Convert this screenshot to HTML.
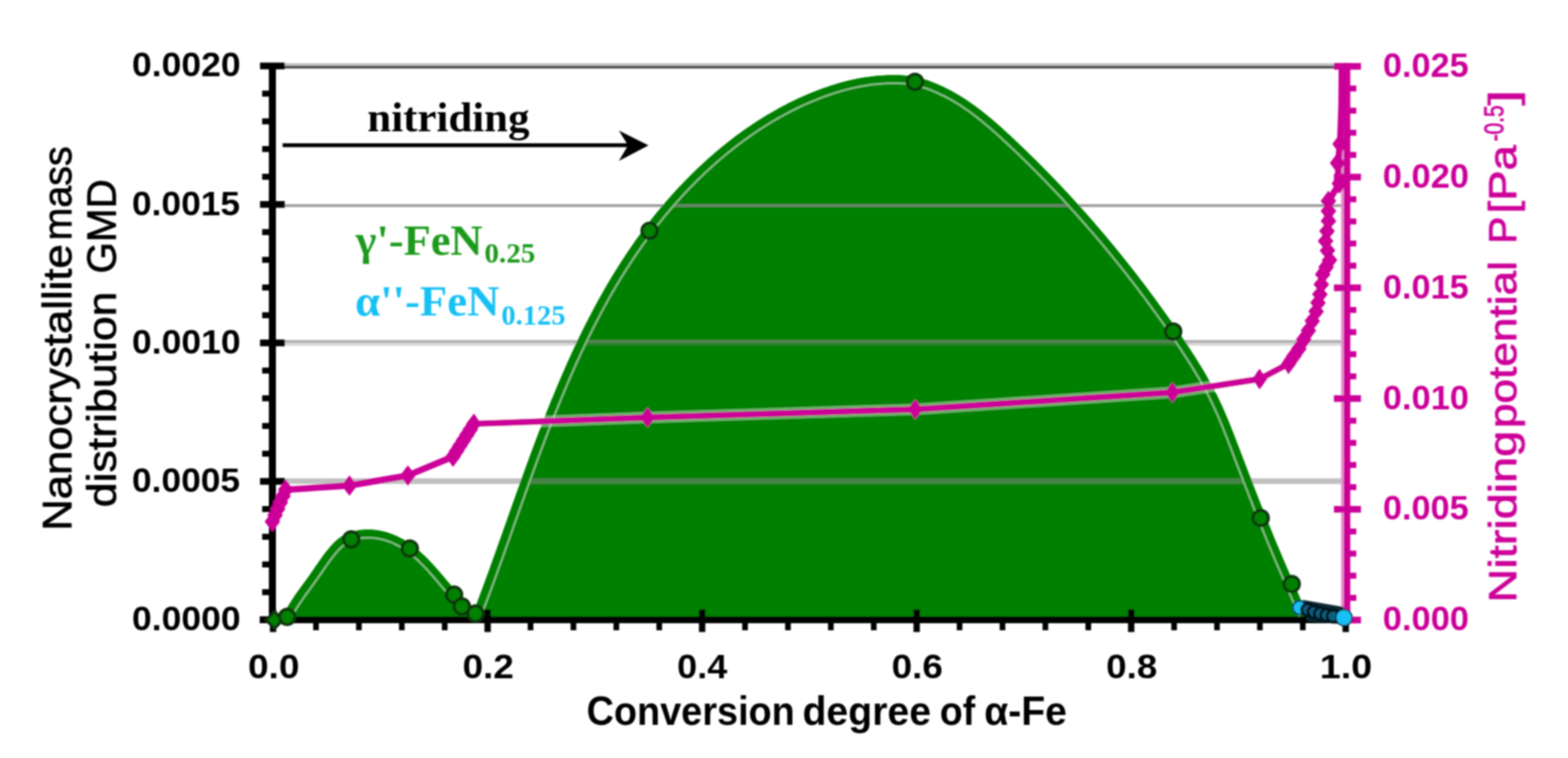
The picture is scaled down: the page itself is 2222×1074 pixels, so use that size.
<!DOCTYPE html>
<html lang="en"><head><meta charset="utf-8"><title>Nitriding chart</title>
<style>
html,body{margin:0;padding:0;background:#fff;}
body{width:2222px;height:1074px;overflow:hidden;}
svg{display:block;}
</style></head><body>
<svg width="2222" height="1074" viewBox="0 0 2222 1074" role="img" aria-label="Nanocrystallite mass distribution and nitriding potential versus conversion degree">
<defs><filter id="soft" x="0" y="0" width="2222" height="1074" filterUnits="userSpaceOnUse"><feGaussianBlur stdDeviation="1.2"/></filter></defs>
<rect width="2222" height="1074" fill="#fff"/>
<g filter="url(#soft)">
<g id="grid">
<rect x="387.0" y="89.5" width="1520.0" height="3.6" fill="#c0c0c0"/>
<rect x="387.0" y="93.1" width="1520.0" height="4" fill="#505050"/>
</g>
<g id="area">
<path d="M397.9 880 L399.4 876.2 L401.1 872.4 L402.9 868.8 L404.8 865.1 L406.7 861.6 L408.7 858.1 L410.8 854.7 L412.9 851.3 L415.1 847.9 L417.4 844.6 L419.6 841.3 L422 838 L424.3 834.8 L426.7 831.5 L429 828.3 L431.4 825 L433.8 821.7 L436.2 818.5 L438.6 815.1 L440.9 811.8 L443.3 808.4 L445.6 805 L447.9 801.6 L450.3 798.2 L452.6 794.8 L455 791.5 L457.4 788.1 L459.8 784.8 L462.3 781.6 L464.9 778.4 L467.5 775.2 L470.2 772.2 L473 769.3 L475.9 766.5 L478.9 763.9 L482.1 761.5 L485.4 759.3 L488.8 757.5 L492.4 755.8 L496.1 754.4 L499.9 753.2 L503.7 752.2 L507.6 751.4 L511.6 750.9 L515.7 750.5 L519.7 750.4 L523.8 750.4 L527.9 750.6 L532 751 L536.1 751.6 L540.2 752.4 L544.2 753.3 L548.2 754.3 L552 755.6 L555.9 756.9 L559.6 758.5 L563.3 760.1 L566.9 761.9 L570.4 763.8 L573.8 765.8 L577.2 767.9 L580.6 770.2 L583.8 772.5 L587 774.9 L590.2 777.5 L593.3 780.1 L596.3 782.7 L599.3 785.5 L602.3 788.3 L605.2 791.1 L608.1 794 L610.9 797 L613.7 800 L616.4 803 L619.1 806 L621.8 809.1 L624.5 812.2 L627.1 815.2 L629.7 818.3 L632.3 821.4 L634.9 824.5 L637.5 827.6 L640.1 830.6 L642.7 833.6 L645.4 836.6 L648 839.6 L650.8 842.5 L653.6 845.4 L656.4 848.3 L659.3 851.1 L662.3 853.8 L665.3 856.6 L668.1 859.4 L670.9 862.3 L673.4 865.4 L675.7 868.6 L677.7 872 L679.4 875.7 L680.6 879.7 Z" fill="#008000"/>
<path d="M666 880 L667.4 876.3 L668.9 872.6 L670.3 868.9 L671.7 865.1 L673.2 861.4 L674.6 857.7 L676 854 L677.4 850.2 L678.8 846.5 L680.2 842.8 L681.6 839 L683 835.3 L684.4 831.5 L685.8 827.7 L687.2 824 L688.6 820.2 L689.9 816.5 L691.3 812.7 L692.7 808.9 L694.1 805.2 L695.4 801.4 L696.8 797.6 L698.1 793.8 L699.5 790 L700.9 786.2 L702.2 782.5 L703.6 778.7 L704.9 774.9 L706.3 771.1 L707.6 767.3 L709 763.5 L710.3 759.7 L711.7 755.9 L713 752.1 L714.4 748.3 L715.7 744.5 L717.1 740.7 L718.4 736.9 L719.7 733.1 L721.1 729.3 L722.4 725.5 L723.8 721.7 L725.1 717.9 L726.5 714.1 L727.8 710.3 L729.2 706.4 L730.5 702.6 L731.9 698.8 L733.3 695 L734.6 691.2 L736 687.4 L737.3 683.6 L738.7 679.8 L740.1 676 L741.5 672.2 L742.8 668.4 L744.2 664.6 L745.6 660.8 L747 657 L748.4 653.2 L749.8 649.4 L751.2 645.6 L752.6 641.9 L754 638.1 L755.4 634.3 L756.8 630.5 L758.2 626.7 L759.6 622.9 L761 619.2 L762.5 615.4 L763.9 611.6 L765.4 607.9 L766.8 604.1 L768.3 600.3 L769.7 596.6 L771.2 592.8 L772.7 589.1 L774.1 585.3 L775.6 581.6 L777.1 577.8 L778.6 574.1 L780.1 570.3 L781.6 566.6 L783.2 562.9 L784.7 559.2 L786.2 555.5 L787.8 551.7 L789.3 548 L790.9 544.3 L792.5 540.6 L794 536.9 L795.6 533.2 L797.2 529.6 L798.8 525.9 L800.4 522.2 L802.1 518.5 L803.7 514.9 L805.3 511.2 L807 507.6 L808.6 503.9 L810.3 500.3 L812 496.6 L813.7 493 L815.4 489.4 L817.1 485.8 L818.8 482.1 L820.6 478.5 L822.3 474.9 L824.1 471.4 L825.8 467.8 L827.6 464.2 L829.4 460.6 L831.2 457.1 L833 453.5 L834.8 449.9 L836.7 446.4 L838.5 442.9 L840.4 439.3 L842.3 435.8 L844.2 432.3 L846.1 428.8 L848 425.3 L849.9 421.8 L851.9 418.3 L853.8 414.9 L855.8 411.4 L857.8 408 L859.8 404.5 L861.8 401.1 L863.8 397.7 L865.9 394.2 L867.9 390.8 L870 387.4 L872.1 384 L874.2 380.7 L876.3 377.3 L878.5 373.9 L880.6 370.6 L882.8 367.2 L885 363.9 L887.2 360.6 L889.4 357.2 L891.6 353.9 L893.9 350.7 L896.1 347.4 L898.4 344.1 L900.7 340.8 L903 337.6 L905.4 334.3 L907.7 331.1 L910.1 327.9 L912.5 324.7 L914.9 321.5 L917.3 318.3 L919.8 315.1 L922.2 312 L924.7 308.8 L927.2 305.7 L929.8 302.6 L932.3 299.5 L934.9 296.4 L937.4 293.3 L940 290.2 L942.7 287.1 L945.3 284.1 L948 281 L950.6 278 L953.3 275 L956 272 L958.8 269 L961.5 266.1 L964.3 263.1 L967.1 260.2 L969.9 257.2 L972.8 254.3 L975.6 251.4 L978.5 248.6 L981.4 245.7 L984.3 242.9 L987.2 240.1 L990.1 237.3 L993.1 234.5 L996.1 231.7 L999.1 229 L1002.1 226.3 L1005.1 223.6 L1008.2 220.9 L1011.2 218.2 L1014.3 215.6 L1017.4 212.9 L1020.5 210.3 L1023.7 207.8 L1026.8 205.2 L1030 202.7 L1033.2 200.2 L1036.4 197.7 L1039.6 195.2 L1042.8 192.8 L1046.1 190.4 L1049.3 188 L1052.6 185.6 L1055.9 183.3 L1059.2 181 L1062.6 178.7 L1065.9 176.5 L1069.3 174.2 L1072.6 172 L1076 169.9 L1079.4 167.7 L1082.9 165.6 L1086.3 163.5 L1089.7 161.4 L1093.2 159.4 L1096.7 157.4 L1100.2 155.4 L1103.7 153.5 L1107.2 151.6 L1110.7 149.7 L1114.3 147.9 L1117.8 146 L1121.4 144.3 L1125 142.5 L1128.6 140.8 L1132.2 139.1 L1135.9 137.5 L1139.5 135.9 L1143.2 134.3 L1146.8 132.7 L1150.5 131.2 L1154.2 129.7 L1157.9 128.3 L1161.6 126.9 L1165.4 125.5 L1169.1 124.2 L1172.9 122.9 L1176.6 121.6 L1180.4 120.4 L1184.2 119.3 L1188 118.1 L1191.8 117.1 L1195.7 116 L1199.5 115 L1203.4 114.1 L1207.2 113.2 L1211.1 112.3 L1215 111.5 L1218.9 110.8 L1222.8 110.1 L1226.7 109.5 L1230.6 108.9 L1234.6 108.4 L1238.5 107.9 L1242.5 107.5 L1246.5 107.2 L1250.5 106.9 L1254.5 106.7 L1258.5 106.6 L1262.5 106.5 L1266.5 106.4 L1270.6 106.5 L1274.6 106.6 L1278.7 106.8 L1282.7 107.1 L1286.8 107.4 L1290.9 107.8 L1295 108.3 L1299.1 109.3 L1303.1 110.4 L1307.1 111.6 L1311 112.8 L1314.9 114.1 L1318.8 115.5 L1322.6 117 L1326.4 118.5 L1330.1 120 L1333.7 121.7 L1337.4 123.4 L1341 125.1 L1344.5 126.9 L1348.1 128.8 L1351.6 130.7 L1355 132.7 L1358.4 134.7 L1361.8 136.8 L1365.2 138.9 L1368.5 141 L1371.8 143.2 L1375.1 145.5 L1378.3 147.8 L1381.5 150.1 L1384.7 152.4 L1387.9 154.8 L1391 157.3 L1394.2 159.7 L1397.3 162.2 L1400.4 164.7 L1403.4 167.3 L1406.5 169.8 L1409.5 172.4 L1412.5 175 L1415.5 177.7 L1418.5 180.3 L1421.5 183 L1424.4 185.7 L1427.4 188.4 L1430.3 191.1 L1433.3 193.9 L1436.2 196.6 L1439.1 199.4 L1442 202.1 L1444.9 204.9 L1447.8 207.7 L1450.7 210.4 L1453.6 213.2 L1456.5 216 L1459.4 218.8 L1462.3 221.6 L1465.1 224.5 L1468 227.3 L1470.8 230.1 L1473.7 233 L1476.5 235.8 L1479.3 238.7 L1482.2 241.6 L1485 244.4 L1487.8 247.3 L1490.6 250.2 L1493.4 253.1 L1496.2 256 L1499 258.9 L1501.7 261.8 L1504.5 264.8 L1507.3 267.7 L1510 270.7 L1512.8 273.6 L1515.5 276.6 L1518.3 279.5 L1521 282.5 L1523.7 285.5 L1526.4 288.5 L1529.1 291.4 L1531.8 294.4 L1534.5 297.5 L1537.2 300.5 L1539.9 303.5 L1542.6 306.5 L1545.2 309.5 L1547.9 312.6 L1550.5 315.6 L1553.2 318.7 L1555.8 321.7 L1558.4 324.8 L1561.1 327.9 L1563.7 330.9 L1566.3 334 L1568.9 337.1 L1571.5 340.2 L1574 343.3 L1576.6 346.4 L1579.2 349.5 L1581.7 352.7 L1584.3 355.8 L1586.8 358.9 L1589.4 362 L1591.9 365.2 L1594.4 368.3 L1596.9 371.5 L1599.4 374.6 L1601.9 377.8 L1604.4 381 L1606.9 384.2 L1609.4 387.3 L1611.9 390.5 L1614.3 393.7 L1616.8 396.9 L1619.2 400.1 L1621.6 403.3 L1624.1 406.5 L1626.5 409.8 L1628.9 413 L1631.3 416.2 L1633.7 419.4 L1636.1 422.7 L1638.5 425.9 L1640.8 429.2 L1643.2 432.4 L1645.5 435.7 L1647.9 438.9 L1650.2 442.2 L1652.6 445.5 L1654.9 448.7 L1657.2 452 L1659.5 455.3 L1661.8 458.6 L1664.1 461.9 L1666.4 465.2 L1668.6 468.5 L1670.9 471.8 L1673.1 475.1 L1675.4 478.4 L1677.6 481.7 L1679.9 485 L1682.1 488.3 L1684.3 491.7 L1686.5 495 L1688.6 498.4 L1690.8 501.7 L1693 505.1 L1695.1 508.4 L1697.2 511.8 L1699.3 515.2 L1701.4 518.6 L1703.5 522 L1705.5 525.4 L1707.5 528.8 L1709.5 532.3 L1711.5 535.7 L1713.5 539.2 L1715.4 542.7 L1717.3 546.2 L1719.2 549.7 L1721 553.2 L1722.8 556.8 L1724.6 560.3 L1726.4 563.9 L1728.1 567.5 L1729.8 571.1 L1731.5 574.7 L1733.1 578.4 L1734.7 582 L1736.3 585.7 L1737.9 589.4 L1739.5 593.1 L1741 596.8 L1742.5 600.5 L1744 604.2 L1745.5 608 L1747 611.7 L1748.4 615.5 L1749.9 619.2 L1751.3 623 L1752.8 626.7 L1754.2 630.5 L1755.6 634.3 L1757.1 638 L1758.5 641.8 L1760 645.6 L1761.4 649.3 L1762.8 653.1 L1764.3 656.8 L1765.7 660.6 L1767.2 664.4 L1768.6 668.1 L1770 671.9 L1771.5 675.7 L1772.9 679.4 L1774.4 683.2 L1775.9 686.9 L1777.3 690.7 L1778.8 694.4 L1780.2 698.2 L1781.7 702 L1783.2 705.7 L1784.6 709.5 L1786.1 713.2 L1787.6 716.9 L1789.1 720.7 L1790.6 724.4 L1792.1 728.2 L1793.6 731.9 L1795 735.7 L1796.6 739.4 L1798.1 743.1 L1799.6 746.9 L1801.1 750.6 L1802.6 754.3 L1804.1 758 L1805.7 761.8 L1807.2 765.5 L1808.7 769.2 L1810.3 772.9 L1811.8 776.6 L1813.4 780.3 L1815 784 L1816.5 787.7 L1818.1 791.4 L1819.7 795.1 L1821.3 798.8 L1822.9 802.5 L1824.5 806.2 L1826.1 809.9 L1827.7 813.6 L1829.3 817.2 L1830.9 820.9 L1832.5 824.6 L1834.1 828.3 L1835.7 831.9 L1837.3 835.6 L1838.9 839.3 L1840.5 843 L1842.1 846.7 L1843.7 850.4 L1845.2 854.1 L1846.8 857.7 L1848.4 861.4 L1849.9 865.1 L1851.5 868.9 L1853 872.6 L1854.5 876.3 L1856 880 Z" fill="#008000"/>
</g>
<g id="grid2" fill="#868686">
<rect x="387.0" y="289.3" width="1520.0" height="4" opacity="0.8"/>
<rect x="387.0" y="481.8" width="1520.0" height="4" opacity="0.655"/>
<rect x="387.0" y="485.8" width="1520.0" height="4" opacity="0.33"/>
<rect x="387.0" y="677.7" width="1520.0" height="8" opacity="0.52"/>
</g>
<g id="band" fill="none" stroke="#008000" stroke-width="11">
<path d="M406.1 874.8 L407.8 871.2 L409.6 867.7 L411.5 864.3 L413.5 860.9 L415.5 857.6 L417.6 854.2 L419.7 851 L421.9 847.7 L424.2 844.5 L426.4 841.2 L428.8 838 L431.1 834.8 L433.5 831.5 L435.9 828.3 L438.3 825 L440.7 821.7 L443.1 818.3 L445.4 814.9 L447.8 811.5 L450.1 808.1 L452.5 804.7 L454.8 801.3 L457.1 798 L459.5 794.6 L461.8 791.4 L464.2 788.1 L466.7 785 L469.2 781.9 L471.7 778.8 L474.3 775.9 L476.9 773.1 L479.6 770.5 L482.4 768.1 L485.2 766 L488.2 764.1 L491.3 762.4 L494.6 760.9 L497.9 759.6 L501.4 758.5 L504.9 757.6 L508.5 756.8 L512.3 756.3 L516 756 L519.8 755.9 L523.7 755.9 L527.5 756.1 L531.4 756.5 L535.2 757 L539.1 757.7 L542.9 758.6 L546.6 759.6 L550.3 760.8 L553.9 762.1 L557.4 763.5 L560.9 765.1 L564.3 766.8 L567.7 768.6 L571 770.5 L574.2 772.6 L577.4 774.7 L580.6 777 L583.7 779.3 L586.7 781.7 L589.7 784.2 L592.7 786.8 L595.6 789.5 L598.5 792.2 L601.3 795 L604.1 797.8 L606.9 800.7 L609.6 803.7 L612.3 806.7 L615 809.7 L617.7 812.7 L620.3 815.7 L622.9 818.8 L625.5 821.9 L628.1 825 L630.7 828 L633.3 831.1 L635.9 834.2 L638.6 837.3 L641.3 840.3 L644 843.3 L646.8 846.3 L649.7 849.3 L652.6 852.2 L655.6 855.1 L658.5 857.8 L661.4 860.6 L664.2 863.3 L666.7 866 L669.1 868.8 L671.1 871.6 L672.8 874.5"/>
<path d="M674 874.6 L675.4 870.8 L676.9 867.1 L678.3 863.4 L679.7 859.7 L681.2 855.9 L682.6 852.2 L684 848.4 L685.4 844.7 L686.8 840.9 L688.2 837.2 L689.6 833.4 L691 829.7 L692.3 825.9 L693.7 822.1 L695.1 818.4 L696.5 814.6 L697.9 810.8 L699.2 807 L700.6 803.2 L702 799.5 L703.3 795.7 L704.7 791.9 L706 788.1 L707.4 784.3 L708.8 780.5 L710.1 776.7 L711.5 772.9 L712.8 769.1 L714.2 765.3 L715.5 761.5 L716.9 757.7 L718.2 753.9 L719.5 750.1 L720.9 746.3 L722.2 742.5 L723.6 738.7 L724.9 734.9 L726.3 731.1 L727.6 727.3 L729 723.5 L730.3 719.7 L731.7 715.9 L733 712.1 L734.4 708.3 L735.7 704.5 L737.1 700.7 L738.4 696.9 L739.8 693.1 L741.2 689.3 L742.5 685.5 L743.9 681.7 L745.3 677.9 L746.6 674.1 L748 670.3 L749.4 666.5 L750.8 662.7 L752.1 658.9 L753.5 655.1 L754.9 651.3 L756.3 647.5 L757.7 643.8 L759.1 640 L760.5 636.2 L761.9 632.4 L763.3 628.7 L764.8 624.9 L766.2 621.1 L767.6 617.3 L769.1 613.6 L770.5 609.8 L771.9 606.1 L773.4 602.3 L774.9 598.6 L776.3 594.8 L777.8 591.1 L779.3 587.3 L780.7 583.6 L782.2 579.9 L783.7 576.1 L785.2 572.4 L786.7 568.7 L788.3 565 L789.8 561.3 L791.3 557.6 L792.9 553.9 L794.4 550.2 L796 546.5 L797.5 542.8 L799.1 539.1 L800.7 535.4 L802.3 531.7 L803.9 528.1 L805.5 524.4 L807.1 520.8 L808.7 517.1 L810.3 513.5 L812 509.8 L813.6 506.2 L815.3 502.6 L817 498.9 L818.7 495.3 L820.4 491.7 L822.1 488.1 L823.8 484.5 L825.5 480.9 L827.2 477.4 L829 473.8 L830.7 470.2 L832.5 466.6 L834.3 463.1 L836.1 459.5 L837.9 456 L839.7 452.5 L841.6 449 L843.4 445.4 L845.3 441.9 L847.1 438.4 L849 434.9 L850.9 431.4 L852.8 428 L854.7 424.5 L856.7 421 L858.6 417.6 L860.6 414.1 L862.5 410.7 L864.5 407.3 L866.5 403.9 L868.6 400.5 L870.6 397.1 L872.6 393.7 L874.7 390.3 L876.8 386.9 L878.9 383.6 L881 380.2 L883.1 376.9 L885.2 373.5 L887.4 370.2 L889.6 366.9 L891.7 363.6 L893.9 360.3 L896.2 357 L898.4 353.8 L900.7 350.5 L902.9 347.3 L905.2 344 L907.5 340.8 L909.8 337.6 L912.2 334.4 L914.5 331.2 L916.9 328 L919.3 324.8 L921.7 321.7 L924.1 318.5 L926.6 315.4 L929 312.3 L931.5 309.1 L934 306 L936.5 302.9 L939.1 299.9 L941.6 296.8 L944.2 293.8 L946.8 290.7 L949.4 287.7 L952.1 284.7 L954.7 281.7 L957.4 278.7 L960.1 275.7 L962.8 272.8 L965.6 269.8 L968.3 266.9 L971.1 264 L973.9 261.1 L976.7 258.2 L979.5 255.3 L982.4 252.5 L985.2 249.6 L988.1 246.8 L991 244 L993.9 241.3 L996.9 238.5 L999.8 235.8 L1002.8 233 L1005.8 230.3 L1008.8 227.7 L1011.8 225 L1014.8 222.4 L1017.9 219.8 L1021 217.2 L1024 214.6 L1027.2 212 L1030.3 209.5 L1033.4 207 L1036.6 204.5 L1039.7 202.1 L1042.9 199.6 L1046.1 197.2 L1049.3 194.8 L1052.6 192.5 L1055.8 190.1 L1059.1 187.8 L1062.4 185.5 L1065.7 183.3 L1069 181 L1072.3 178.8 L1075.6 176.6 L1079 174.5 L1082.4 172.4 L1085.7 170.3 L1089.1 168.2 L1092.5 166.2 L1096 164.2 L1099.4 162.2 L1102.9 160.2 L1106.3 158.3 L1109.8 156.4 L1113.3 154.6 L1116.8 152.8 L1120.3 151 L1123.9 149.2 L1127.4 147.5 L1131 145.8 L1134.5 144.1 L1138.1 142.5 L1141.7 140.9 L1145.3 139.3 L1148.9 137.8 L1152.6 136.3 L1156.2 134.9 L1159.9 133.4 L1163.6 132 L1167.2 130.7 L1170.9 129.4 L1174.6 128.1 L1178.3 126.9 L1182.1 125.7 L1185.8 124.5 L1189.5 123.4 L1193.3 122.4 L1197.1 121.3 L1200.8 120.4 L1204.6 119.4 L1208.4 118.5 L1212.2 117.7 L1216 116.9 L1219.9 116.2 L1223.7 115.5 L1227.5 114.9 L1231.4 114.4 L1235.3 113.9 L1239.1 113.4 L1243 113 L1246.9 112.7 L1250.8 112.4 L1254.7 112.2 L1258.6 112 L1262.6 112 L1266.5 111.9 L1270.4 112 L1274.4 112.1 L1278.4 112.3 L1282.3 112.6 L1286.3 112.9 L1290.3 113.3 L1294 113.7 L1297.7 114.6 L1301.6 115.7 L1305.5 116.9 L1309.3 118.1 L1313.1 119.3 L1316.9 120.7 L1320.6 122.1 L1324.3 123.6 L1327.9 125.1 L1331.5 126.7 L1335 128.3 L1338.5 130.1 L1342 131.8 L1345.5 133.6 L1348.9 135.5 L1352.3 137.4 L1355.6 139.4 L1358.9 141.4 L1362.2 143.5 L1365.5 145.6 L1368.7 147.8 L1371.9 150 L1375.1 152.2 L1378.3 154.5 L1381.4 156.8 L1384.6 159.2 L1387.7 161.6 L1390.7 164 L1393.8 166.5 L1396.9 169 L1399.9 171.5 L1402.9 174 L1405.9 176.6 L1408.9 179.2 L1411.9 181.8 L1414.8 184.4 L1417.8 187.1 L1420.7 189.8 L1423.7 192.5 L1426.6 195.2 L1429.5 197.9 L1432.4 200.6 L1435.3 203.4 L1438.2 206.1 L1441.1 208.9 L1444 211.6 L1446.9 214.4 L1449.8 217.2 L1452.7 220 L1455.5 222.8 L1458.4 225.6 L1461.3 228.4 L1464.1 231.2 L1466.9 234 L1469.8 236.9 L1472.6 239.7 L1475.4 242.6 L1478.2 245.4 L1481.1 248.3 L1483.9 251.1 L1486.6 254 L1489.4 256.9 L1492.2 259.8 L1495 262.7 L1497.8 265.6 L1500.5 268.5 L1503.3 271.5 L1506 274.4 L1508.8 277.3 L1511.5 280.3 L1514.2 283.2 L1516.9 286.2 L1519.6 289.2 L1522.4 292.2 L1525.1 295.1 L1527.7 298.1 L1530.4 301.1 L1533.1 304.1 L1535.8 307.1 L1538.4 310.1 L1541.1 313.2 L1543.7 316.2 L1546.4 319.2 L1549 322.3 L1551.6 325.3 L1554.3 328.4 L1556.9 331.4 L1559.5 334.5 L1562.1 337.6 L1564.7 340.7 L1567.2 343.7 L1569.8 346.8 L1572.4 349.9 L1574.9 353 L1577.5 356.1 L1580 359.3 L1582.6 362.4 L1585.1 365.5 L1587.6 368.6 L1590.1 371.8 L1592.6 374.9 L1595.1 378.1 L1597.6 381.2 L1600.1 384.4 L1602.6 387.5 L1605 390.7 L1607.5 393.9 L1610 397.1 L1612.4 400.3 L1614.8 403.4 L1617.3 406.6 L1619.7 409.8 L1622.1 413.1 L1624.5 416.3 L1626.9 419.5 L1629.3 422.7 L1631.7 425.9 L1634 429.2 L1636.4 432.4 L1638.7 435.6 L1641.1 438.9 L1643.4 442.1 L1645.8 445.4 L1648.1 448.6 L1650.4 451.9 L1652.7 455.2 L1655 458.4 L1657.3 461.7 L1659.6 465 L1661.8 468.3 L1664.1 471.6 L1666.3 474.9 L1668.6 478.2 L1670.8 481.5 L1673.1 484.8 L1675.3 488.1 L1677.5 491.4 L1679.7 494.7 L1681.9 498 L1684 501.4 L1686.2 504.7 L1688.3 508 L1690.4 511.4 L1692.5 514.7 L1694.6 518.1 L1696.7 521.5 L1698.7 524.8 L1700.8 528.2 L1702.8 531.6 L1704.8 535 L1706.7 538.5 L1708.7 541.9 L1710.6 545.3 L1712.4 548.8 L1714.3 552.3 L1716.1 555.8 L1717.9 559.3 L1719.7 562.8 L1721.4 566.3 L1723.1 569.9 L1724.8 573.4 L1726.5 577 L1728.1 580.6 L1729.7 584.2 L1731.3 587.9 L1732.8 591.5 L1734.4 595.2 L1735.9 598.9 L1737.4 602.6 L1738.9 606.3 L1740.4 610 L1741.8 613.7 L1743.3 617.4 L1744.8 621.2 L1746.2 624.9 L1747.6 628.7 L1749.1 632.5 L1750.5 636.2 L1751.9 640 L1753.4 643.7 L1754.8 647.5 L1756.3 651.3 L1757.7 655 L1759.1 658.8 L1760.6 662.6 L1762 666.3 L1763.5 670.1 L1764.9 673.9 L1766.4 677.6 L1767.8 681.4 L1769.3 685.2 L1770.7 688.9 L1772.2 692.7 L1773.6 696.4 L1775.1 700.2 L1776.6 704 L1778.1 707.7 L1779.5 711.5 L1781 715.2 L1782.5 719 L1784 722.7 L1785.5 726.5 L1786.9 730.2 L1788.4 734 L1789.9 737.7 L1791.5 741.4 L1793 745.2 L1794.5 748.9 L1796 752.7 L1797.5 756.4 L1799 760.1 L1800.6 763.9 L1802.1 767.6 L1803.7 771.3 L1805.2 775 L1806.8 778.7 L1808.3 782.5 L1809.9 786.2 L1811.5 789.9 L1813 793.6 L1814.6 797.3 L1816.2 801 L1817.8 804.7 L1819.4 808.4 L1821 812.1 L1822.6 815.7 L1824.2 819.4 L1825.8 823.1 L1827.4 826.8 L1829.1 830.5 L1830.7 834.1 L1832.3 837.8 L1833.9 841.5 L1835.4 845.2 L1837 848.9 L1838.6 852.5 L1840.2 856.2 L1841.7 859.9 L1843.3 863.6 L1844.8 867.3 L1846.4 871 L1847.9 874.6"/>
</g>
<g id="lightline" fill="none" stroke="#86c486" stroke-width="2.4">
<path d="M413.7 873.9 L415.4 870.5 L417.2 867.2 L419.1 864 L421.1 860.7 L423.1 857.5 L425.2 854.3 L427.4 851.1 L429.6 847.9 L431.8 844.7 L434.1 841.5 L436.5 838.3 L438.8 835.1 L441.2 831.8 L443.6 828.5 L446 825.2 L448.4 821.8 L450.8 818.4 L453.2 815 L455.6 811.5 L457.9 808.1 L460.2 804.8 L462.5 801.4 L464.9 798.1 L467.2 794.9 L469.5 791.7 L471.9 788.7 L474.3 785.7 L476.7 782.8 L479.2 780 L481.7 777.4 L484.2 775 L486.7 772.8 L489.2 770.9 L491.8 769.2 L494.5 767.7 L497.4 766.4 L500.4 765.2 L503.5 764.2 L506.7 763.4 L510 762.8 L513.4 762.3 L516.9 762 L520.4 761.9 L524 761.9 L527.6 762.1 L531.2 762.4 L534.8 763 L538.4 763.6 L541.9 764.4 L545.4 765.4 L548.9 766.5 L552.2 767.7 L555.6 769 L558.8 770.5 L562.1 772.1 L565.2 773.8 L568.4 775.7 L571.5 777.6 L574.5 779.6 L577.5 781.8 L580.5 784 L583.4 786.4 L586.3 788.8 L589.2 791.3 L592 793.9 L594.8 796.5 L597.6 799.3 L600.3 802 L603 804.9 L605.7 807.7 L608.4 810.7 L611 813.6 L613.6 816.6 L616.2 819.6 L618.8 822.7 L621.4 825.7 L624 828.8 L626.6 831.9 L629.2 835 L631.9 838.1 L634.6 841.2 L637.3 844.3 L640.1 847.4 L642.9 850.4 L645.9 853.5 L648.9 856.5 L651.9 859.4 L654.9 862.2 L657.8 864.9 L660.4 867.5 L662.8 870 L664.8 872.4 L666.6 874.9"/>
<path d="M681.5 873 L683 869.3 L684.4 865.5 L685.8 861.8 L687.3 858 L688.7 854.3 L690.1 850.5 L691.5 846.8 L692.9 843 L694.3 839.3 L695.7 835.5 L697.1 831.7 L698.5 828 L699.9 824.2 L701.2 820.4 L702.6 816.6 L704 812.8 L705.4 809.1 L706.7 805.3 L708.1 801.5 L709.5 797.7 L710.8 793.9 L712.2 790.1 L713.5 786.3 L714.9 782.5 L716.3 778.7 L717.6 774.9 L719 771.1 L720.3 767.3 L721.7 763.5 L723 759.7 L724.4 755.9 L725.7 752.1 L727 748.3 L728.4 744.5 L729.7 740.7 L731.1 736.9 L732.4 733.1 L733.8 729.3 L735.1 725.5 L736.5 721.7 L737.8 717.9 L739.2 714.1 L740.5 710.3 L741.9 706.5 L743.2 702.7 L744.6 698.9 L745.9 695.1 L747.3 691.3 L748.7 687.5 L750 683.7 L751.4 679.9 L752.8 676.1 L754.1 672.3 L755.5 668.5 L756.9 664.8 L758.3 661 L759.7 657.2 L761 653.4 L762.4 649.6 L763.8 645.8 L765.2 642.1 L766.6 638.3 L768 634.5 L769.5 630.8 L770.9 627 L772.3 623.2 L773.7 619.5 L775.2 615.7 L776.6 612 L778 608.2 L779.5 604.5 L780.9 600.7 L782.4 597 L783.9 593.3 L785.3 589.5 L786.8 585.8 L788.3 582.1 L789.8 578.4 L791.3 574.7 L792.8 571 L794.3 567.3 L795.8 563.6 L797.4 559.9 L798.9 556.2 L800.4 552.5 L802 548.8 L803.5 545.1 L805.1 541.5 L806.7 537.8 L808.3 534.1 L809.9 530.5 L811.5 526.8 L813.1 523.2 L814.7 519.6 L816.3 515.9 L818 512.3 L819.6 508.7 L821.3 505.1 L822.9 501.5 L824.6 497.9 L826.3 494.3 L828 490.7 L829.7 487.1 L831.4 483.5 L833.1 480 L834.9 476.4 L836.6 472.9 L838.4 469.3 L840.2 465.8 L841.9 462.3 L843.7 458.7 L845.6 455.2 L847.4 451.7 L849.2 448.2 L851.1 444.7 L852.9 441.3 L854.8 437.8 L856.7 434.3 L858.6 430.9 L860.5 427.4 L862.4 424 L864.3 420.5 L866.3 417.1 L868.2 413.7 L870.2 410.3 L872.2 406.9 L874.2 403.5 L876.2 400.2 L878.3 396.8 L880.3 393.4 L882.4 390.1 L884.4 386.8 L886.5 383.4 L888.6 380.1 L890.8 376.8 L892.9 373.5 L895.1 370.2 L897.2 366.9 L899.4 363.7 L901.6 360.4 L903.8 357.2 L906.1 353.9 L908.3 350.7 L910.6 347.5 L912.9 344.3 L915.2 341.1 L917.5 337.9 L919.8 334.8 L922.2 331.6 L924.6 328.4 L927 325.3 L929.4 322.2 L931.8 319.1 L934.2 316 L936.7 312.9 L939.2 309.8 L941.7 306.8 L944.2 303.7 L946.7 300.7 L949.3 297.6 L951.9 294.6 L954.5 291.6 L957.1 288.6 L959.7 285.7 L962.4 282.7 L965 279.8 L967.7 276.8 L970.4 273.9 L973.2 271 L975.9 268.1 L978.7 265.2 L981.5 262.4 L984.3 259.6 L987.1 256.7 L989.9 253.9 L992.8 251.1 L995.7 248.4 L998.5 245.6 L1001.5 242.9 L1004.4 240.2 L1007.3 237.5 L1010.3 234.8 L1013.2 232.2 L1016.2 229.5 L1019.2 226.9 L1022.3 224.3 L1025.3 221.8 L1028.4 219.2 L1031.4 216.7 L1034.5 214.2 L1037.6 211.7 L1040.8 209.2 L1043.9 206.8 L1047 204.4 L1050.2 202 L1053.4 199.6 L1056.6 197.3 L1059.8 195 L1063 192.7 L1066.3 190.5 L1069.5 188.2 L1072.8 186 L1076.1 183.8 L1079.4 181.7 L1082.7 179.6 L1086 177.5 L1089.4 175.4 L1092.7 173.3 L1096.1 171.3 L1099.5 169.4 L1102.9 167.4 L1106.3 165.5 L1109.7 163.6 L1113.1 161.7 L1116.6 159.9 L1120 158.1 L1123.5 156.3 L1127 154.6 L1130.5 152.9 L1134 151.2 L1137.5 149.6 L1141.1 148 L1144.6 146.4 L1148.2 144.8 L1151.8 143.3 L1155.3 141.9 L1158.9 140.4 L1162.5 139 L1166.1 137.7 L1169.8 136.3 L1173.4 135 L1177.1 133.8 L1180.7 132.6 L1184.4 131.4 L1188 130.3 L1191.7 129.2 L1195.4 128.1 L1199.1 127.1 L1202.8 126.2 L1206.5 125.3 L1210.2 124.4 L1214 123.6 L1217.7 122.8 L1221.4 122.1 L1225.2 121.5 L1229 120.9 L1232.7 120.3 L1236.5 119.8 L1240.3 119.4 L1244.1 119 L1247.9 118.7 L1251.7 118.4 L1255.5 118.2 L1259.3 118 L1263.1 118 L1267 117.9 L1270.8 118 L1274.7 118.1 L1278.5 118.3 L1282.4 118.5 L1286.3 118.9 L1290.2 119.2 L1293.4 119.6 L1296.7 120.4 L1300.5 121.5 L1304.3 122.6 L1308 123.8 L1311.7 125 L1315.3 126.3 L1318.9 127.7 L1322.5 129.1 L1326 130.6 L1329.5 132.2 L1332.9 133.8 L1336.4 135.4 L1339.8 137.1 L1343.1 138.9 L1346.5 140.7 L1349.8 142.6 L1353 144.6 L1356.3 146.5 L1359.5 148.6 L1362.7 150.6 L1365.9 152.8 L1369 154.9 L1372.2 157.1 L1375.3 159.4 L1378.4 161.6 L1381.4 164 L1384.5 166.3 L1387.5 168.7 L1390.5 171.1 L1393.5 173.6 L1396.5 176.1 L1399.5 178.6 L1402.5 181.1 L1405.4 183.7 L1408.4 186.3 L1411.3 188.9 L1414.3 191.6 L1417.2 194.2 L1420.1 196.9 L1423 199.6 L1425.9 202.3 L1428.8 205 L1431.7 207.7 L1434.6 210.5 L1437.5 213.2 L1440.4 216 L1443.3 218.7 L1446.1 221.5 L1449 224.3 L1451.8 227 L1454.7 229.8 L1457.5 232.6 L1460.4 235.5 L1463.2 238.3 L1466 241.1 L1468.8 243.9 L1471.7 246.8 L1474.5 249.6 L1477.3 252.5 L1480.1 255.3 L1482.8 258.2 L1485.6 261.1 L1488.4 264 L1491.1 266.9 L1493.9 269.8 L1496.7 272.7 L1499.4 275.6 L1502.1 278.5 L1504.9 281.4 L1507.6 284.4 L1510.3 287.3 L1513 290.3 L1515.7 293.2 L1518.4 296.2 L1521.1 299.2 L1523.8 302.1 L1526.5 305.1 L1529.1 308.1 L1531.8 311.1 L1534.4 314.1 L1537.1 317.1 L1539.7 320.1 L1542.3 323.2 L1545 326.2 L1547.6 329.2 L1550.2 332.3 L1552.8 335.3 L1555.4 338.4 L1558 341.4 L1560.6 344.5 L1563.1 347.6 L1565.7 350.7 L1568.3 353.7 L1570.8 356.8 L1573.3 359.9 L1575.9 363 L1578.4 366.2 L1580.9 369.3 L1583.4 372.4 L1585.9 375.5 L1588.4 378.6 L1590.9 381.8 L1593.4 384.9 L1595.9 388.1 L1598.3 391.2 L1600.8 394.4 L1603.3 397.6 L1605.7 400.7 L1608.1 403.9 L1610.6 407.1 L1613 410.3 L1615.4 413.5 L1617.8 416.7 L1620.2 419.9 L1622.6 423.1 L1625 426.3 L1627.3 429.5 L1629.7 432.7 L1632 435.9 L1634.4 439.2 L1636.7 442.4 L1639.1 445.6 L1641.4 448.9 L1643.7 452.1 L1646 455.4 L1648.3 458.6 L1650.6 461.9 L1652.9 465.2 L1655.1 468.4 L1657.4 471.7 L1659.6 475 L1661.9 478.3 L1664.1 481.5 L1666.4 484.8 L1668.6 488.1 L1670.8 491.4 L1673 494.7 L1675.2 498 L1677.3 501.3 L1679.5 504.6 L1681.6 507.9 L1683.8 511.3 L1685.9 514.6 L1688 517.9 L1690 521.2 L1692.1 524.6 L1694.1 527.9 L1696.1 531.3 L1698.1 534.7 L1700.1 538 L1702 541.4 L1703.9 544.8 L1705.8 548.2 L1707.7 551.6 L1709.5 555.1 L1711.3 558.5 L1713.1 562 L1714.8 565.5 L1716.5 568.9 L1718.2 572.4 L1719.9 576 L1721.5 579.5 L1723.1 583.1 L1724.7 586.6 L1726.3 590.2 L1727.8 593.9 L1729.3 597.5 L1730.9 601.2 L1732.4 604.8 L1733.8 608.5 L1735.3 612.2 L1736.8 615.9 L1738.2 619.6 L1739.7 623.4 L1741.1 627.1 L1742.5 630.8 L1744 634.6 L1745.4 638.4 L1746.8 642.1 L1748.3 645.9 L1749.7 649.7 L1751.1 653.4 L1752.6 657.2 L1754 661 L1755.5 664.7 L1756.9 668.5 L1758.4 672.3 L1759.8 676 L1761.3 679.8 L1762.7 683.6 L1764.2 687.3 L1765.6 691.1 L1767.1 694.9 L1768.6 698.6 L1770 702.4 L1771.5 706.1 L1773 709.9 L1774.4 713.7 L1775.9 717.4 L1777.4 721.2 L1778.9 724.9 L1780.4 728.7 L1781.9 732.4 L1783.4 736.2 L1784.9 739.9 L1786.4 743.7 L1787.9 747.4 L1789.4 751.2 L1790.9 754.9 L1792.5 758.7 L1794 762.4 L1795.5 766.1 L1797.1 769.9 L1798.6 773.6 L1800.2 777.3 L1801.7 781.1 L1803.3 784.8 L1804.9 788.5 L1806.4 792.2 L1808 795.9 L1809.6 799.7 L1811.2 803.4 L1812.8 807.1 L1814.4 810.8 L1816 814.5 L1817.6 818.1 L1819.2 821.8 L1820.8 825.5 L1822.4 829.2 L1824.1 832.9 L1825.7 836.5 L1827.3 840.2 L1828.8 843.9 L1830.4 847.6 L1832 851.2 L1833.6 854.9 L1835.2 858.6 L1836.7 862.2 L1838.3 865.9 L1839.8 869.6 L1841.3 873.2"/>
</g>
<g id="axes" fill="#000">
<rect x="381" y="90" width="10" height="793.5"/>
<rect x="368" y="873.5" width="1543.0" height="9.5"/>
<rect x="368.5" y="873.5" width="35" height="9.5"/>
<rect x="371.5" y="834.8" width="14" height="8.5"/>
<rect x="371.5" y="795.5" width="14" height="8.5"/>
<rect x="371.5" y="756.3" width="14" height="8.5"/>
<rect x="371.5" y="717" width="14" height="8.5"/>
<rect x="368.5" y="677.3" width="35" height="9.5"/>
<rect x="371.5" y="638.6" width="14" height="8.5"/>
<rect x="371.5" y="599.3" width="14" height="8.5"/>
<rect x="371.5" y="560.1" width="14" height="8.5"/>
<rect x="371.5" y="520.8" width="14" height="8.5"/>
<rect x="368.5" y="481.1" width="35" height="9.5"/>
<rect x="371.5" y="442.4" width="14" height="8.5"/>
<rect x="371.5" y="403.1" width="14" height="8.5"/>
<rect x="371.5" y="363.9" width="14" height="8.5"/>
<rect x="371.5" y="324.6" width="14" height="8.5"/>
<rect x="368.5" y="284.9" width="35" height="9.5"/>
<rect x="371.5" y="246.2" width="14" height="8.5"/>
<rect x="371.5" y="206.9" width="14" height="8.5"/>
<rect x="371.5" y="167.7" width="14" height="8.5"/>
<rect x="371.5" y="128.4" width="14" height="8.5"/>
<rect x="368.5" y="88.7" width="35" height="9.5"/>
<rect x="382.5" y="863.5" width="9" height="32"/>
<rect x="443.8" y="878.5" width="8" height="14.5"/>
<rect x="504.6" y="878.5" width="8" height="14.5"/>
<rect x="565.4" y="878.5" width="8" height="14.5"/>
<rect x="626.2" y="878.5" width="8" height="14.5"/>
<rect x="686.5" y="863.5" width="9" height="32"/>
<rect x="747.8" y="878.5" width="8" height="14.5"/>
<rect x="808.6" y="878.5" width="8" height="14.5"/>
<rect x="869.4" y="878.5" width="8" height="14.5"/>
<rect x="930.2" y="878.5" width="8" height="14.5"/>
<rect x="990.5" y="863.5" width="9" height="32"/>
<rect x="1051.8" y="878.5" width="8" height="14.5"/>
<rect x="1112.6" y="878.5" width="8" height="14.5"/>
<rect x="1173.4" y="878.5" width="8" height="14.5"/>
<rect x="1234.2" y="878.5" width="8" height="14.5"/>
<rect x="1294.5" y="863.5" width="9" height="32"/>
<rect x="1355.8" y="878.5" width="8" height="14.5"/>
<rect x="1416.6" y="878.5" width="8" height="14.5"/>
<rect x="1477.4" y="878.5" width="8" height="14.5"/>
<rect x="1538.2" y="878.5" width="8" height="14.5"/>
<rect x="1598.5" y="863.5" width="9" height="32"/>
<rect x="1659.8" y="878.5" width="8" height="14.5"/>
<rect x="1720.6" y="878.5" width="8" height="14.5"/>
<rect x="1781.4" y="878.5" width="8" height="14.5"/>
<rect x="1842.2" y="878.5" width="8" height="14.5"/>
<rect x="1902.5" y="863.5" width="9" height="32"/>
</g>
<g id="raxis" fill="#cc0099">
<rect x="1900.3" y="90" width="4.2" height="792.5" fill="#e58fcd"/>
<rect x="1904.2" y="89.5" width="9.3" height="793.0"/>
<rect x="1890.3" y="873.8" width="38.3" height="9.4"/>
<rect x="1906" y="842.9" width="16" height="8.4"/>
<rect x="1906" y="811.5" width="16" height="8.4"/>
<rect x="1906" y="780.2" width="16" height="8.4"/>
<rect x="1906" y="748.8" width="16" height="8.4"/>
<rect x="1890.3" y="716.9" width="38.3" height="9.4"/>
<rect x="1906" y="686" width="16" height="8.4"/>
<rect x="1906" y="654.6" width="16" height="8.4"/>
<rect x="1906" y="623.3" width="16" height="8.4"/>
<rect x="1906" y="591.9" width="16" height="8.4"/>
<rect x="1890.3" y="560" width="38.3" height="9.4"/>
<rect x="1906" y="529.1" width="16" height="8.4"/>
<rect x="1906" y="497.7" width="16" height="8.4"/>
<rect x="1906" y="466.4" width="16" height="8.4"/>
<rect x="1906" y="435" width="16" height="8.4"/>
<rect x="1890.3" y="403.1" width="38.3" height="9.4"/>
<rect x="1906" y="372.2" width="16" height="8.4"/>
<rect x="1906" y="340.8" width="16" height="8.4"/>
<rect x="1906" y="309.5" width="16" height="8.4"/>
<rect x="1906" y="278.1" width="16" height="8.4"/>
<rect x="1890.3" y="246.2" width="38.3" height="9.4"/>
<rect x="1906" y="215.3" width="16" height="8.4"/>
<rect x="1906" y="183.9" width="16" height="8.4"/>
<rect x="1906" y="152.6" width="16" height="8.4"/>
<rect x="1906" y="121.2" width="16" height="8.4"/>
<rect x="1890.3" y="89.3" width="38.3" height="9.4"/>
</g>
<g id="maghalo" fill="none" stroke="#fff" opacity="0.42">
<path d="M671.5 600.5 L917.6 591.4 L1297 580 L1661.4 556 L1785 537 L1825.9 515.5 L1840.7 494 L1854.2 468.3 L1865 441.3 L1870.4 417 L1874.4 388.7 L1884 368.5 L1878.5 341.5 L1882.5 313.2" stroke-width="16" stroke-linejoin="round" stroke-linecap="butt"/>
</g>
<g id="mag" fill="#cc0099" stroke="#cc0099">
<path d="M386 739 L404.8 694 L495.2 688 L578 673.7 L642 647 L671.5 600.5 L917.6 591.4 L1297 580 L1661.4 556 L1785 537 L1825.9 515.5 L1840.7 494 L1854.2 468.3 L1865 441.3 L1870.4 417 L1874.4 388.7 L1884 368.5 L1878.5 341.5 L1882.5 313.2 L1882.5 284.8 L1897 262 L1896 231 L1899 204 L1901 150 L1901.5 94" fill="none" stroke-width="9" stroke-linejoin="round" stroke-linecap="butt"/>
<path d="M375 739 L386 724.5 L397 739 L386 753.5 Z" stroke="none"/>
<path d="M378.8 730 L389.8 715.5 L400.8 730 L389.8 744.5 Z" stroke="none"/>
<path d="M382.5 721 L393.5 706.5 L404.5 721 L393.5 735.5 Z" stroke="none"/>
<path d="M386.3 712 L397.3 697.5 L408.3 712 L397.3 726.5 Z" stroke="none"/>
<path d="M390 703 L401 688.5 L412 703 L401 717.5 Z" stroke="none"/>
<path d="M393.8 694 L404.8 679.5 L415.8 694 L404.8 708.5 Z" stroke="none"/>
<path d="M484.2 688 L495.2 673.5 L506.2 688 L495.2 702.5 Z" stroke="none"/>
<path d="M567 673.7 L578 659.2 L589 673.7 L578 688.2 Z" stroke="none"/>
<path d="M631 647 L642 632.5 L653 647 L642 661.5 Z" stroke="none"/>
<path d="M635.9 639.2 L646.9 624.8 L657.9 639.2 L646.9 653.8 Z" stroke="none"/>
<path d="M640.8 631.5 L651.8 617 L662.8 631.5 L651.8 646 Z" stroke="none"/>
<path d="M645.8 623.8 L656.8 609.2 L667.8 623.8 L656.8 638.2 Z" stroke="none"/>
<path d="M650.7 616 L661.7 601.5 L672.7 616 L661.7 630.5 Z" stroke="none"/>
<path d="M655.6 608.2 L666.6 593.8 L677.6 608.2 L666.6 622.8 Z" stroke="none"/>
<path d="M660.5 600.5 L671.5 586 L682.5 600.5 L671.5 615 Z" stroke="none"/>
<path d="M906.6 591.4 L917.6 576.9 L928.6 591.4 L917.6 605.9 Z" stroke="none"/>
<path d="M1286 580 L1297 565.5 L1308 580 L1297 594.5 Z" stroke="none"/>
<path d="M1650.4 556 L1661.4 541.5 L1672.4 556 L1661.4 570.5 Z" stroke="none"/>
<path d="M1774 537 L1785 522.5 L1796 537 L1785 551.5 Z" stroke="none"/>
<path d="M1814.9 515.5 L1825.9 501 L1836.9 515.5 L1825.9 530 Z" stroke="none"/>
<path d="M1822.3 504.8 L1833.3 490.2 L1844.3 504.8 L1833.3 519.2 Z" stroke="none"/>
<path d="M1829.7 494 L1840.7 479.5 L1851.7 494 L1840.7 508.5 Z" stroke="none"/>
<path d="M1836.5 481.1 L1847.5 466.6 L1858.5 481.1 L1847.5 495.6 Z" stroke="none"/>
<path d="M1843.2 468.3 L1854.2 453.8 L1865.2 468.3 L1854.2 482.8 Z" stroke="none"/>
<path d="M1848.6 454.8 L1859.6 440.3 L1870.6 454.8 L1859.6 469.3 Z" stroke="none"/>
<path d="M1854 441.3 L1865 426.8 L1876 441.3 L1865 455.8 Z" stroke="none"/>
<path d="M1856.7 429.1 L1867.7 414.6 L1878.7 429.1 L1867.7 443.6 Z" stroke="none"/>
<path d="M1859.4 417 L1870.4 402.5 L1881.4 417 L1870.4 431.5 Z" stroke="none"/>
<path d="M1861.4 402.9 L1872.4 388.4 L1883.4 402.9 L1872.4 417.4 Z" stroke="none"/>
<path d="M1863.4 388.7 L1874.4 374.2 L1885.4 388.7 L1874.4 403.2 Z" stroke="none"/>
<path d="M1868.2 378.6 L1879.2 364.1 L1890.2 378.6 L1879.2 393.1 Z" stroke="none"/>
<path d="M1873 368.5 L1884 354 L1895 368.5 L1884 383 Z" stroke="none"/>
<path d="M1870.2 355 L1881.2 340.5 L1892.2 355 L1881.2 369.5 Z" stroke="none"/>
<path d="M1867.5 341.5 L1878.5 327 L1889.5 341.5 L1878.5 356 Z" stroke="none"/>
<path d="M1869.5 327.4 L1880.5 312.9 L1891.5 327.4 L1880.5 341.9 Z" stroke="none"/>
<path d="M1871.5 313.2 L1882.5 298.7 L1893.5 313.2 L1882.5 327.7 Z" stroke="none"/>
<path d="M1871.5 299 L1882.5 284.5 L1893.5 299 L1882.5 313.5 Z" stroke="none"/>
<path d="M1871.5 284.8 L1882.5 270.3 L1893.5 284.8 L1882.5 299.3 Z" stroke="none"/>
<path d="M1887 260 L1898 245.5 L1909 260 L1898 274.5 Z" stroke="none"/>
<path d="M1884.5 231 L1895.5 216.5 L1906.5 231 L1895.5 245.5 Z" stroke="none"/>
<path d="M1888 204 L1899 189.5 L1910 204 L1899 218.5 Z" stroke="none"/>
</g>
<g id="gm" fill="#008000" stroke="#0a330a" stroke-width="4">
<path d="M377 878.5 L389 866.5 L401 878.5 L389 890.5 Z"/>
<circle cx="407" cy="874" r="11"/>
<circle cx="497.8" cy="764.2" r="11"/>
<circle cx="580.7" cy="777.3" r="11"/>
<circle cx="643.5" cy="842.6" r="11"/>
<circle cx="654.5" cy="859.3" r="11"/>
<circle cx="673.8" cy="869.3" r="11"/>
<circle cx="920.5" cy="327" r="11"/>
<circle cx="1296.6" cy="116" r="11"/>
<circle cx="1662.5" cy="469.8" r="11"/>
<circle cx="1786.5" cy="733.9" r="11"/>
<circle cx="1830.5" cy="827.4" r="11"/>
</g>
<g id="cm">
<path d="M1846 850 L1904 860 L1898 884 L1852 880 Z" fill="#072630"/>
<circle cx="1841.5" cy="861" r="9.5" fill="#19c0f5" stroke="#0b4a66" stroke-width="2.5"/>
<circle cx="1853" cy="864" r="8.5" fill="#0d5f7d" stroke="#04161d" stroke-width="4"/>
<circle cx="1862" cy="867" r="8.5" fill="#0d5f7d" stroke="#04161d" stroke-width="4"/>
<circle cx="1871" cy="869.5" r="8.5" fill="#0d5f7d" stroke="#04161d" stroke-width="4"/>
<circle cx="1880" cy="871.5" r="8.5" fill="#0d5f7d" stroke="#04161d" stroke-width="4"/>
<circle cx="1889" cy="873" r="8.5" fill="#0d5f7d" stroke="#04161d" stroke-width="4"/>
<circle cx="1904.5" cy="875" r="11.5" fill="#19c0f5" stroke="#0a2a3a" stroke-width="2"/>
</g>
<g id="arrow" fill="#000">
<rect x="400.5" y="203" width="500" height="5.5"/>
<path d="M919 206 L877 185 L890 206 L877 228 Z"/>
</g>
<g id="labels">
<text font-family="'Liberation Sans', sans-serif" font-size="49" font-weight="bold" fill="#000"><tspan x="187" y="893.1" textLength="153.9" lengthAdjust="spacingAndGlyphs">0.0000</tspan></text>
<text font-family="'Liberation Sans', sans-serif" font-size="49" font-weight="bold" fill="#000"><tspan x="187" y="696.9" textLength="153.2" lengthAdjust="spacingAndGlyphs">0.0005</tspan></text>
<text font-family="'Liberation Sans', sans-serif" font-size="49" font-weight="bold" fill="#000"><tspan x="187" y="500.7" textLength="153.9" lengthAdjust="spacingAndGlyphs">0.0010</tspan></text>
<text font-family="'Liberation Sans', sans-serif" font-size="49" font-weight="bold" fill="#000"><tspan x="187" y="304.5" textLength="153.2" lengthAdjust="spacingAndGlyphs">0.0015</tspan></text>
<text font-family="'Liberation Sans', sans-serif" font-size="49" font-weight="bold" fill="#000"><tspan x="187" y="108.3" textLength="153.9" lengthAdjust="spacingAndGlyphs">0.0020</tspan></text>
<text font-family="'Liberation Sans', sans-serif" font-size="49" font-weight="bold" fill="#000"><tspan x="351.4" y="961" textLength="73" lengthAdjust="spacingAndGlyphs">0.0</tspan></text>
<text font-family="'Liberation Sans', sans-serif" font-size="49" font-weight="bold" fill="#000"><tspan x="655.4" y="961" textLength="72.9" lengthAdjust="spacingAndGlyphs">0.2</tspan></text>
<text font-family="'Liberation Sans', sans-serif" font-size="49" font-weight="bold" fill="#000"><tspan x="959.5" y="961" textLength="71.1" lengthAdjust="spacingAndGlyphs">0.4</tspan></text>
<text font-family="'Liberation Sans', sans-serif" font-size="49" font-weight="bold" fill="#000"><tspan x="1263.4" y="961" textLength="72.7" lengthAdjust="spacingAndGlyphs">0.6</tspan></text>
<text font-family="'Liberation Sans', sans-serif" font-size="49" font-weight="bold" fill="#000"><tspan x="1567.4" y="961" textLength="72.5" lengthAdjust="spacingAndGlyphs">0.8</tspan></text>
<text font-family="'Liberation Sans', sans-serif" font-size="49" font-weight="bold" fill="#000"><tspan x="1870.2" y="961" textLength="74.3" lengthAdjust="spacingAndGlyphs">1.0</tspan></text>
<text font-family="'Liberation Sans', sans-serif" font-size="49" font-weight="bold" fill="#cc0099"><tspan x="1959.6" y="893.3" textLength="122.1" lengthAdjust="spacingAndGlyphs">0.000</tspan></text>
<text font-family="'Liberation Sans', sans-serif" font-size="49" font-weight="bold" fill="#cc0099"><tspan x="1959.7" y="736.4" textLength="121.5" lengthAdjust="spacingAndGlyphs">0.005</tspan></text>
<text font-family="'Liberation Sans', sans-serif" font-size="49" font-weight="bold" fill="#cc0099"><tspan x="1959.6" y="579.5" textLength="122.1" lengthAdjust="spacingAndGlyphs">0.010</tspan></text>
<text font-family="'Liberation Sans', sans-serif" font-size="49" font-weight="bold" fill="#cc0099"><tspan x="1959.7" y="422.6" textLength="121.5" lengthAdjust="spacingAndGlyphs">0.015</tspan></text>
<text font-family="'Liberation Sans', sans-serif" font-size="49" font-weight="bold" fill="#cc0099"><tspan x="1959.6" y="265.7" textLength="122.1" lengthAdjust="spacingAndGlyphs">0.020</tspan></text>
<text font-family="'Liberation Sans', sans-serif" font-size="49" font-weight="bold" fill="#cc0099"><tspan x="1959.7" y="108.8" textLength="121.5" lengthAdjust="spacingAndGlyphs">0.025</tspan></text>
<text font-family="'Liberation Sans', sans-serif" font-size="57" font-weight="bold" fill="#000"><tspan x="831.3" y="1026.5" textLength="295" lengthAdjust="spacingAndGlyphs">Conversion</tspan> <tspan x="1137.2" y="1026.5" textLength="182.1" lengthAdjust="spacingAndGlyphs">degree</tspan> <tspan x="1331.7" y="1026.5" textLength="50.3" lengthAdjust="spacingAndGlyphs">of</tspan> <tspan x="1394.7" y="1026.5" textLength="117.2" lengthAdjust="spacingAndGlyphs">α-Fe</tspan></text>
<g transform="translate(101 0) rotate(-90)">
<text font-family="'Liberation Sans', sans-serif" font-size="57" font-weight="normal" fill="#000" stroke="#000" stroke-width="1.0" stroke-linejoin="round"><tspan x="-752.1" y="0" textLength="406" lengthAdjust="spacingAndGlyphs">Nanocrystallite</tspan> <tspan x="-340.8" y="0" textLength="133.5" lengthAdjust="spacingAndGlyphs">mass</tspan></text>
</g>
<g transform="translate(163.5 0) rotate(-90)">
<text font-family="'Liberation Sans', sans-serif" font-size="57" font-weight="normal" fill="#000" stroke="#000" stroke-width="1.0" stroke-linejoin="round"><tspan x="-718.7" y="0" textLength="305.7" lengthAdjust="spacingAndGlyphs">distribution</tspan> <tspan x="-387.4" y="0" textLength="133.5" lengthAdjust="spacingAndGlyphs">GMD</tspan></text>
</g>
<g transform="translate(2148.5 0) rotate(-90)">
<text font-family="'Liberation Sans', sans-serif" font-size="56" font-weight="normal" fill="#cc0099" stroke="#cc0099" stroke-width="1.0" stroke-linejoin="round"><tspan x="-853.7" y="0" textLength="243.3" lengthAdjust="spacingAndGlyphs">Nitriding</tspan> <tspan x="-606.5" y="0" textLength="236.6" lengthAdjust="spacingAndGlyphs">potential</tspan> <tspan x="-345.6" y="0" textLength="37.6" lengthAdjust="spacingAndGlyphs">P</tspan> <tspan x="-302.5" y="0" textLength="96.9" lengthAdjust="spacingAndGlyphs">[Pa</tspan><tspan x="-200.3" y="-17.6" font-size="38" textLength="51" lengthAdjust="spacingAndGlyphs">-0.5</tspan><tspan x="-149.6" y="0" textLength="22.2" lengthAdjust="spacingAndGlyphs">]</tspan></text>
</g>
<text font-family="'Liberation Serif', serif" font-size="59.5" font-weight="bold" fill="#000"><tspan x="520.6" y="186" textLength="229.7" lengthAdjust="spacingAndGlyphs">nitriding</tspan></text>
<text font-family="'Liberation Serif', serif" font-size="61" font-weight="bold" fill="#1f9a1f"><tspan x="504.1" y="360.5" textLength="179.7" lengthAdjust="spacingAndGlyphs">γ'-FeN</tspan><tspan x="686.5" y="372" font-size="41" textLength="72.1" lengthAdjust="spacingAndGlyphs">0.25</tspan></text>
<text font-family="'Liberation Serif', serif" font-size="61" font-weight="bold" fill="#19c0f5"><tspan x="503.3" y="446.5" textLength="204.4" lengthAdjust="spacingAndGlyphs">α''-FeN</tspan><tspan x="710.5" y="459.5" font-size="41" textLength="91" lengthAdjust="spacingAndGlyphs">0.125</tspan></text>
</g>
</g>
</svg>
</body></html>
